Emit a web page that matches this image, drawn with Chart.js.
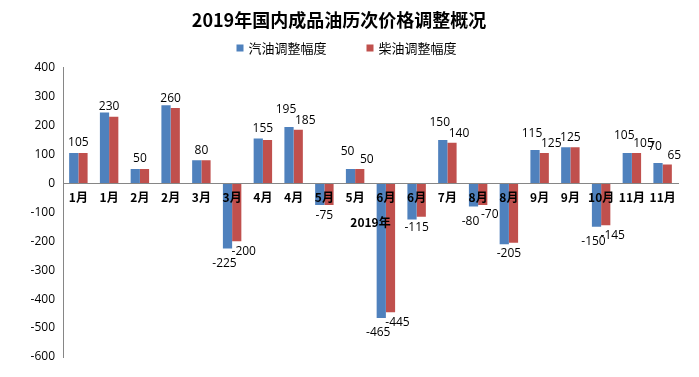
<!DOCTYPE html>
<html>
<head>
<meta charset="utf-8">
<script src="https://cdn.jsdelivr.net/npm/chart.js@4/dist/chart.umd.min.js"></script>
<style>
html, body { margin: 0; padding: 0; background: #fff; }
#wrap { width: 699px; height: 377px; position: relative; }
</style>
</head>
<body>
<div id="wrap"><canvas id="c"></canvas></div>
<script>
// 调整批次（月份）
const months = ['1月','1月','2月','2月','3月','3月','4月','4月','5月','5月','6月','6月','7月','8月','8月','9月','9月','10月','11月','11月'];
// 汽油、柴油调整幅度（元/吨）
const gasoline = [105, 245, 50, 270, 80, -225, 155, 195, -75, 50, -465, -125, 150, -80, -210, 115, 125, -150, 105, 70];
const diesel   = [105, 230, 50, 260, 80, -200, 150, 185, -75, 50, -445, -115, 140, -75, -205, 105, 125, -145, 105, 65];
// 图上标注的数字（null = 未标注）
const gasolineLabels = ['105', null, '50', null, '80', '-225', '155', '195', '-75', '50', '-465', null, '150', '-80', null, '115', '125', '-150', '105', '70'];
const dieselLabels   = [null, '230', null, '260', null, '-200', null, '185', null, '50', '-445', '-115', '140', '-70', '-205', '125', null, '-145', '105', '65'];
const yTicks = [400, 300, 200, 100, 0, -100, -200, -300, -400, -500, -600];
const seriesNames = ['汽油调整幅度', '柴油调整幅度'];
const seriesColors = ['#4F81BD', '#C0504D'];

const labelFont = '12px "Open Sans", "Liberation Sans", sans-serif';
const cjk = '"Noto Sans CJK SC", sans-serif';

// 数据标签（两组都标时左右错开）
const valueLabels = {
	id: 'valueLabels',
	afterDatasetsDraw(chart) {
		const ctx = chart.ctx;
		const sets = [gasolineLabels, dieselLabels];
		const m0 = chart.getDatasetMeta(0).data;
		const m1 = chart.getDatasetMeta(1).data;
		ctx.save();
		ctx.font = labelFont;
		ctx.fillStyle = '#000';
		ctx.textAlign = 'center';
		months.forEach((m, i) => {
			const both = gasolineLabels[i] !== null && dieselLabels[i] !== null;
			sets.forEach((arr, d) => {
				const txt = arr[i];
				if (txt === null) return;
				const bar = (d === 0 ? m0 : m1)[i];
				const val = d === 0 ? gasoline[i] : diesel[i];
				let x = bar.x, gapUp = 4, gapDown = 5;
				if (!both) {
					x = (m0[i].x + m1[i].x) / 2;
				} else if (d === 0) {
					x = bar.x - 3; gapUp = 11; gapDown = 9;
				} else {
					x = bar.x + 7; gapUp = 3; gapDown = 4;
				}
				if (val >= 0) {
					ctx.textBaseline = 'bottom';
					ctx.fillText(txt, x, bar.y - gapUp);
				} else {
					ctx.textBaseline = 'top';
					ctx.fillText(txt, x, bar.y + gapDown);
				}
			});
		});
		ctx.restore();
	}
};

// 图例（手绘，间距较大）
const wideLegend = {
	id: 'wideLegend',
	afterDraw(chart) {
		const ctx = chart.ctx;
		ctx.save();
		ctx.font = '13px ' + cjk;
		ctx.textBaseline = 'middle';
		ctx.textAlign = 'left';
		const box = 7, gap = 5, space = 40, y = 48;
		const widths = seriesNames.map(n => ctx.measureText(n).width);
		const total = widths.reduce((a, w) => a + box + gap + w, 0) + space;
		let x = chart.width / 2 - total / 2 - 3;
		seriesNames.forEach((n, k) => {
			ctx.fillStyle = seriesColors[k];
			ctx.fillRect(x, y - box / 2, box, box);
			ctx.fillStyle = '#000';
			ctx.fillText(n, x + box + gap, y);
			x += box + gap + widths[k] + space;
		});
		ctx.restore();
	}
};

new Chart(document.getElementById('c'), {
	type: 'bar',
	data: {
		labels: months,
		datasets: [{
			label: seriesNames[0],
			data: gasoline,
			backgroundColor: seriesColors[0]
		}, {
			label: seriesNames[1],
			data: diesel,
			backgroundColor: seriesColors[1]
		}]
	},
	options: {
		responsive: true,
		maintainAspectRatio: false,
		animation: false,
		layout: { padding: { top: 0, left: 0, right: 21, bottom: 20 } },
		datasets: { bar: { categoryPercentage: 0.6, barPercentage: 1.0 } },
		plugins: {
			title: {
				display: true,
				text: '2019年国内成品油历次价格调整概况',
				color: '#000',
				font: { family: cjk, size: 18, weight: 'bold' },
				padding: { top: 9, bottom: 37 }
			},
			legend: { display: false },
			tooltip: { enabled: false }
		},
		scales: {
			x: {
				position: { y: 0 },
				grid: { display: false, drawTicks: false, z: 1 },
				border: { display: true, color: '#868686', z: 1 },
				ticks: {
					z: 1,
					color: '#000',
					maxRotation: 0,
					autoSkip: false,
					padding: 7,
					font: { family: cjk, size: 12, weight: 'bold' }
				},
				title: {
					display: true,
					text: '2019年',
					color: '#000',
					padding: { top: 3 },
					font: { family: cjk, size: 12, weight: 'bold' }
				}
			},
			y: {
				min: -600,
				max: 400,
				grid: { display: false, drawTicks: false },
				border: { display: true, color: '#868686' },
				afterBuildTicks: (scale) => { scale.ticks = yTicks.map(v => ({ value: v })); },
				afterFit: (scale) => { scale.width = 63; },
				ticks: {
					color: '#000',
					padding: 8,
					font: { family: '"Open Sans", "Liberation Sans", sans-serif', size: 12 }
				}
			}
		}
	},
	plugins: [valueLabels, wideLegend]
});
</script>
</body>
</html>
